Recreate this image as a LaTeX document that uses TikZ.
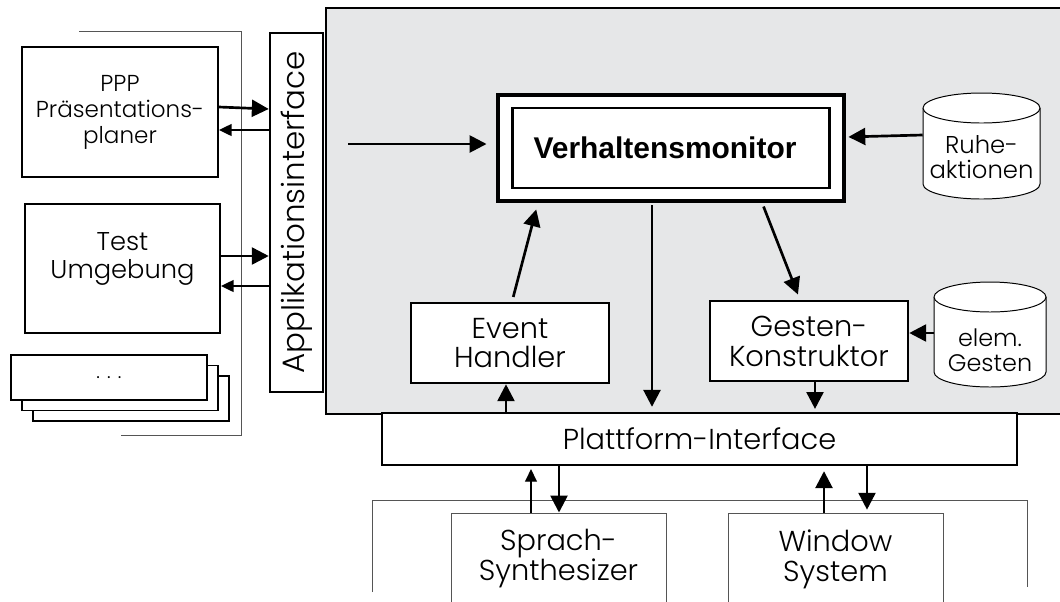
\documentclass[tikz,border=0pt]{standalone}
\usepackage{graphicx}
\usepackage{fontspec}
\setmainfont{Poppins Light}
\newfontfamily\monfont{Liberation Sans}
\usetikzlibrary{arrows.meta}
\newcommand\pxu{0.025cm}
\definecolor{coregray}{HTML}{E6E7E8}
\definecolor{rimgray}{HTML}{555555}

\begin{document}
\begin{tikzpicture}[
    x = \pxu, y = -\pxu,
    box/.style = {
      rectangle,
      draw = black, line width = 1.8pt,
      fill = white,
      align = center,
      inner sep = 0pt,
    },
    leftbox/.style = {
      box, line width = 1.4pt,
    },
    outbox/.style = {
      box, draw = rimgray, line width = .7pt,
    },
    core/.style = {
      rectangle,
      draw = black, line width = 2.1pt,
      fill = coregray,
      inner sep = 0pt,
    },
    dbtext/.style = {
      align = center,
      inner sep = 0pt,
    },
    db/.style = {draw = black, line width = .7pt, fill = white},
    rim/.style = {draw = rimgray, line width = .7pt},
    fat/.style = {line width = 1.9pt, -{Triangle[length=12pt, width=12pt]}},
    slim/.style = {line width = 1pt, -{Triangle[length=9pt, width=8.5pt]}},
    bigfont/.style = {font = \fontsize{22}{26}\selectfont},
    midfont/.style = {font = \fontsize{20.5}{21.3}\selectfont},
  ]
  \useasboundingbox[fill = white] (0,0) rectangle (1060,601);

  % brackets
  \draw[rim] (79,31) -- (241,31) -- (241,435) -- (121,435);
  \draw[rim] (372,592) -- (372,500) -- (1027,500) -- (1027,587);

  % application side
  \node[core, minimum width = 744*\pxu, minimum height = 406*\pxu] (core) at (698,211) {};
  \node[box, bigfont, minimum width = 53*\pxu, minimum height = 359*\pxu] (app) at (296.5,212.5)
    {\rotatebox{90}{Applikationsinterface}};
  \node[leftbox, minimum width = 196*\pxu, minimum height = 130*\pxu,
        font = \fontsize{16.4}{18.5}\selectfont] (ppp) at (120,112) {PPP\\Präsentations-\\planer};
  \node[leftbox, minimum width = 195*\pxu, minimum height = 129*\pxu, text depth = 26*\pxu,
        font = \fontsize{18.3}{19.5}\selectfont] (test) at (122.5,268.5) {Test\\Umgebung};
  \foreach \i in {2,1}
    \node[leftbox, minimum width = 196*\pxu, minimum height = 45*\pxu]
      (stack\i) at (109+11*\i,377.5+10.5*\i) {};
  \node[leftbox, minimum width = 196*\pxu, minimum height = 45*\pxu,
        font = \fontsize{14}{16}\selectfont] (stack0) at (109,377.5) {. . .};

  % core
  \node[box, line width = 2.3pt, minimum width = 346*\pxu, minimum height = 106*\pxu] (vm) at (671,148) {};
  \node[box, line width = 2pt, minimum width = 317*\pxu, minimum height = 80*\pxu,
        font = \monfont\bfseries\fontsize{21.3}{24}\selectfont] (vmin) at (vm.center)
    {Verhaltensmonitor\hspace*{0.3cm}};
  \node[box, midfont, minimum width = 198*\pxu, minimum height = 80*\pxu] (event) at (510,343) {Event\\Handler};
  \node[box, midfont, minimum width = 198*\pxu, minimum height = 80*\pxu] (gk) at (809,341) {Gesten-\\Konstruktor};
  \node[box, minimum width = 635*\pxu, minimum height = 52*\pxu,
        font = \fontsize{20.5}{24}\selectfont] (pif) at (699.5,439) {Plattform-Interface};

  % databases
  \foreach \x/\t/\b/\w in {981.5/93/199/58.5, 990/282/387/56} {
    \filldraw[db] (\x-\w,\t+15) -- (\x-\w,\b-15)
      arc[start angle = 180, end angle = 360, x radius = \w*\pxu, y radius = 15*\pxu]
      -- (\x+\w,\t+15)
      arc[start angle = 0, end angle = 180, x radius = \w*\pxu, y radius = 15*\pxu] -- cycle;
    \draw[db] (\x-\w,\t+15)
      arc[start angle = 180, end angle = 360, x radius = \w*\pxu, y radius = 15*\pxu];
  }
  \node[dbtext, minimum width = 117*\pxu, font = \fontsize{17.3}{17.3}\selectfont] (ruhe) at (981.5,157) {Ruhe-\\aktionen};
  \node[dbtext, minimum width = 112*\pxu, font = \fontsize{17}{17.5}\selectfont] (elem) at (990,350) {elem.\\Gesten};

  % platform
  \node[outbox, midfont, minimum width = 215*\pxu, minimum height = 92*\pxu] (sprach) at (558.5,559) {Sprach-\\Synthesizer};
  \node[outbox, midfont, minimum width = 215*\pxu, minimum height = 92*\pxu] (win) at (835.5,559) {Window\\System};

  % connectors
  \draw[fat] (ppp.east |- 0,107) -- (app.west |- 0,109);
  \draw[slim] (app.west |- 0,130) -- (ppp.east |- 0,130);
  \draw[fat] (test.east |- 0,256) -- (app.west |- 0,256);
  \draw[slim] (app.west |- 0,286) -- (test.east |- 0,286);
  \coordinate (in) at (348,144);
  \draw[fat, shorten >= 7pt] (in) -- (vm.west |- in);
  \draw[fat, shorten >= 2pt] (ruhe.west |- 0,135) -- (vm.east |- 0,137);
  \draw[fat, shorten <= 3.5pt, shorten >= 5pt] (event.north -| 512,0) -- (vm.south -| 538,0);
  \draw[fat, shorten <= 2pt, shorten >= 3.5pt] (vm.south -| 652,0) -- (pif.north -| 652,0);
  \draw[fat, shorten <= 3pt, shorten >= 4pt] (vm.south -| 762,0) -- (gk.north -| 800,0);
  \draw[fat, shorten >= 2pt] (gk.south -| 815,0) -- (pif.north -| 815,0);
  \draw[fat] (pif.north -| 506,0) -- (event.south -| 506,0);
  \draw[fat] (elem.west |- 0,333) -- (gk.east |- 0,333);
  \draw[slim, shorten >= 2pt] (sprach.north -| 531,0) -- (pif.south -| 531,0);
  \draw[fat] (pif.south -| 559,0) -- (sprach.north -| 559,0);
  \draw[fat, shorten >= 3.5pt] (win.north -| 824,0) -- (pif.south -| 824,0);
  \draw[fat, shorten >= 2pt] (pif.south -| 867,0) -- (win.north -| 867,0);
\end{tikzpicture}
\end{document}
